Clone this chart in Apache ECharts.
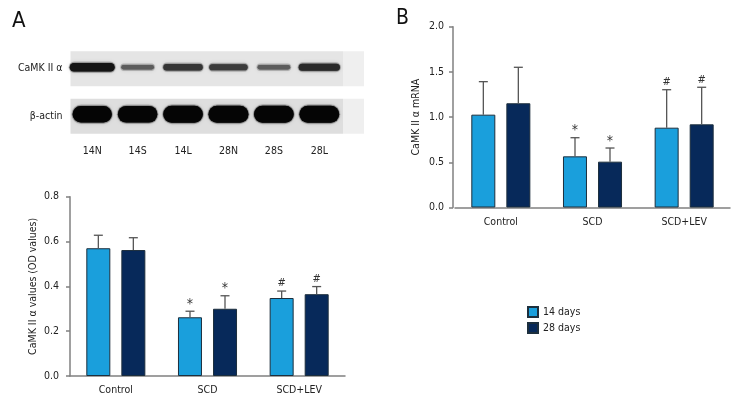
<!DOCTYPE html>
<html><head><meta charset="utf-8">
<script src="https://cdn.jsdelivr.net/npm/echarts@6/dist/echarts.min.js"></script>
<style>html,body{margin:0;padding:0;background:#fff}#c{width:756px;height:420px}</style>
</head><body><div id="c"></div>
<script>
// ---- data ----
const groups = ['Control', 'SCD', 'SCD+LEV'];
const seriesNames = ['14 days', '28 days'];
const odMean14 = [0.570, 0.262, 0.348];
const odSd14   = [0.058, 0.027, 0.031];
const odMean28 = [0.562, 0.300, 0.365];
const odSd28   = [0.055, 0.058, 0.034];
const mrnaMean14 = [1.027, 0.566, 0.883];
const mrnaSd14   = [0.365, 0.206, 0.420];
const mrnaMean28 = [1.153, 0.507, 0.920];
const mrnaSd28   = [0.398, 0.151, 0.410];
const sigMarks = ['', '*', '#'];
const lanes = ['14N', '14S', '14L', '28N', '28S', '28L'];
const blotRows = ['CaMK II α', 'β-actin'];
const camkDensity  = [1.0, 0.35, 0.7, 0.65, 0.35, 0.8];
const actinDensity = [0.9, 0.92, 0.95, 1.0, 0.96, 0.97];

// ---- style ----
const FONT = "'Liberation Sans Narrow','DejaVu Sans Condensed','Roboto Condensed','Liberation Sans',sans-serif";
const FS = 10.5;
const C14 = '#1a9fdc', C28 = '#07295a';
const AX = '#808080';
const BARW = 24, HALF = 17.5;

const chart = echarts.init(document.getElementById('c'));

function errSeries(means, sds, off, xi, yi) {
  return {
    type: 'custom', xAxisIndex: xi, yAxisIndex: yi, silent: true, z: 3,
    data: means.map((m, i) => [i, m, sds[i]]),
    renderItem: function (params, api) {
      const i = api.value(0), m = api.value(1), s = api.value(2);
      const b = api.coord([i, m]), t = api.coord([i, m + s]);
      const x = b[0] + off;
      const ch = [
        {type: 'line', shape: {x1: x, y1: b[1], x2: x, y2: t[1]}, style: {stroke: '#555', lineWidth: 1.3}},
        {type: 'line', shape: {x1: x - 4.5, y1: t[1], x2: x + 4.5, y2: t[1]}, style: {stroke: '#555', lineWidth: 1.3}}
      ];
      const mk = sigMarks[params.dataIndex];
      if (mk) ch.push({type: 'text', style: {text: mk, x: x, y: t[1] - (mk === '*' ? 0 : 2), align: 'center', verticalAlign: 'bottom',
        fontSize: mk === '*' ? 14 : 11, fontFamily: FONT, fill: '#333'}});
      return {type: 'group', children: ch};
    }
  };
}

function barSeries(name, data, color, xi, yi) {
  return {
    type: 'bar', name: name, xAxisIndex: xi, yAxisIndex: yi, data: data,
    barWidth: BARW, barGap: '46%',
    itemStyle: {color: color, borderColor: '#1d2f3d', borderWidth: 1}
  };
}

function catAxis(gi) {
  return {
    type: 'category', gridIndex: gi, data: groups,
    axisLine: {lineStyle: {color: AX, width: 1.5}},
    axisTick: {alignWithLabel: true, length: 4, lineStyle: {color: AX, width: 1.5}},
    axisLabel: {fontSize: FS, color: '#222', margin: 9, fontFamily: FONT}
  };
}
function valAxis(gi, max, name, margin, offset) {
  return {
    type: 'value', gridIndex: gi, min: 0, max: max, interval: max / 4, offset: offset,
    name: name, nameLocation: 'middle', nameGap: 31,
    nameTextStyle: {fontSize: FS, color: '#222', fontFamily: FONT},
    splitLine: {show: false},
    axisLine: {show: true, lineStyle: {color: AX, width: 1.5}},
    axisTick: {show: true, length: 4, lineStyle: {color: AX, width: 1.5}},
    axisLabel: {fontSize: FS, color: '#222', margin: margin, fontFamily: FONT, formatter: v => v.toFixed(1)}
  };
}

const option = {
  animation: false,
  textStyle: {fontFamily: FONT},
  graphic: [
    {type: 'text', left: 12, top: 10, style: {text: 'A', fontSize: 22, fontFamily: FONT, fill: '#111'}},
    {type: 'text', left: 396, top: 8.5, style: {text: 'B', fontSize: 21, fontFamily: FONT, fill: '#111'}}
  ],
  legend: {
    data: seriesNames, orient: 'vertical', left: 522, top: 301,
    itemWidth: 10, itemHeight: 10, itemGap: 4, icon: 'rect',
    textStyle: {fontSize: 10.5, color: '#222', fontFamily: FONT}
  },
  grid: [
    {left: 69.5, top: 45, width: 272.5, height: 95},
    {left: 70, top: 196.7, width: 275, height: 179.3},
    {left: 455, top: 26.7, width: 275, height: 180.8}
  ],
  xAxis: [
    {type: 'category', gridIndex: 0, data: lanes, axisLine: {show: false}, axisTick: {show: false},
     axisLabel: {fontSize: FS, color: '#222', margin: 6, fontFamily: FONT}},
    catAxis(1), catAxis(2)
  ],
  yAxis: [
    {type: 'category', gridIndex: 0, data: blotRows, inverse: true, axisLine: {show: false}, axisTick: {show: false},
     axisLabel: {fontSize: FS, color: '#222', margin: 7, fontFamily: FONT}},
    valAxis(1, 0.8, 'CaMK II α values (OD values)', 11, 0),
    valAxis(2, 2.0, 'CaMK II α mRNA', 9, 2)
  ],
  series: [
    // blot strips
    {
      type: 'custom', xAxisIndex: 0, yAxisIndex: 0, silent: true, z: 1,
      data: blotRows.map((r, i) => [0, i]),
      renderItem: function (params, api) {
        const cs = params.coordSys;
        const row = api.value(1);
        const cy = api.coord([0, row])[1];
        return {type: 'group', children: [
          {type: 'rect', shape: {x: cs.x + 1, y: cy - 17.5, width: cs.width, height: 35}, style: {fill: row === 0 ? '#e5e5e5' : '#dedede'}},
          {type: 'rect', shape: {x: cs.x + cs.width + 1, y: cy - 17.5, width: 21, height: 35}, style: {fill: '#efefef'}}
        ]};
      }
    },
    // blot bands
    {
      type: 'custom', xAxisIndex: 0, yAxisIndex: 0, silent: true, z: 2,
      data: camkDensity.map((d, i) => [i, 0, d]).concat(actinDensity.map((d, i) => [i, 1, d])),
      renderItem: function (params, api) {
        const c = api.coord([api.value(0), api.value(1)]);
        const d = api.value(2), row = api.value(1);
        let w, h, cy, g;
        if (row === 0) { w = 26 + 19 * d; h = 2 + 6.5 * d; cy = c[1] - 1.5; g = Math.round(20 + (1 - d) * 110); }
        else { w = 33 + 7 * d; h = 13 + 4 * d; cy = c[1] - 2; g = 5; }
        const col = 'rgb(' + g + ',' + g + ',' + g + ')';
        return {type: 'group', children: [
          {type: 'rect', shape: {x: c[0] - w / 2 - 1, y: cy - h / 2 - 1.5, width: w + 2, height: h + 3, r: (h + 3) / 2},
           style: {fill: 'rgba(80,80,80,0.25)', shadowBlur: 4, shadowColor: 'rgba(0,0,0,0.3)'}},
          {type: 'rect', shape: {x: c[0] - w / 2, y: cy - h / 2, width: w, height: h, r: h / 2},
           style: {fill: col, shadowBlur: 1.5, shadowColor: col}}
        ]};
      }
    },
    barSeries('14 days', odMean14, C14, 1, 1),
    barSeries('28 days', odMean28, C28, 1, 1),
    errSeries(odMean14, odSd14, -HALF, 1, 1),
    errSeries(odMean28, odSd28, HALF, 1, 1),
    barSeries('14 days', mrnaMean14, C14, 2, 2),
    barSeries('28 days', mrnaMean28, C28, 2, 2),
    errSeries(mrnaMean14, mrnaSd14, -HALF, 2, 2),
    errSeries(mrnaMean28, mrnaSd28, HALF, 2, 2)
  ]
};
chart.setOption(option);
</script>
</body></html>
